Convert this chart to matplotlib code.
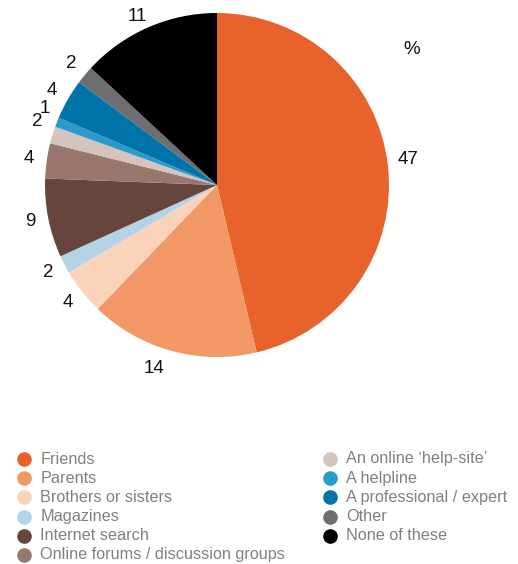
import matplotlib
matplotlib.use("Agg")
import matplotlib.pyplot as plt
import numpy as np

plt.rcParams['font.family'] = ['Liberation Sans', 'DejaVu Sans']

categories = ["Friends", "Parents", "Brothers or sisters", "Magazines", "Internet search",
              "Online forums / discussion groups", "An online \u2018help-site\u2019", "A helpline",
              "A professional / expert", "Other", "None of these"]
# printed values (%)
values = [47, 14, 4, 2, 9, 4, 2, 1, 4, 2, 11]
# wedge sizes as drawn in the picture (%)
shares = [46.3, 15.9, 4.3, 1.7, 7.4, 3.3, 1.6, 0.9, 3.8, 1.7, 13.1]
colors = ["#E8632B", "#F29866", "#FAD3BA", "#B3D4E6", "#66463C", "#9A776D",
          "#D4C4BD", "#2B9AC8", "#0073A9", "#6D6E70", "#000000"]

W, H = 518, 564
fig = plt.figure(figsize=(W / 100, H / 100), dpi=100)
ax = fig.add_axes([0, 0, 1, 1])

cx, cy, r = 217, H - 185, 172
wedges, _ = ax.pie(shares, colors=colors, startangle=90, counterclock=False,
                   center=(cx, cy), radius=r, frame=True,
                   wedgeprops=dict(linewidth=0))
ax.set_xlim(0, W)
ax.set_ylim(0, H)
ax.set_aspect('equal')
ax.axis('off')

# value labels
offsets = {0: (2, 3), 1: (-13, 0), 6: (2, 8), 7: (5, 7), 10: (-4, -6)}
for i, w in enumerate(wedges):
    ang = np.deg2rad((w.theta1 + w.theta2) / 2)
    d = r + 18
    x = cx + d * np.cos(ang)
    y = cy + d * np.sin(ang)
    dx, dy = offsets.get(i, (0, 0))
    ax.text(x + dx, y + dy, str(values[i]), ha='center', va='center',
            fontsize=13.5, color='#111111')

ax.text(412, H - 50, "%", ha='center', va='center', fontsize=13.5, color='#111111')

# legend (two columns)
for i, (c, lab) in enumerate(zip(colors, categories)):
    col = 0 if i < 6 else 1
    row = i if i < 6 else i - 6
    mx = 24 if col == 0 else 330
    ty = H - (459 + row * 19.2)
    ax.plot([mx], [ty], marker='o', markersize=9.5, color=c, linestyle='none')
    ax.text(mx + 16.5, ty, lab, ha='left', va='center', fontsize=11.7, color='#808080')

fig.savefig("out.png", dpi=100)
